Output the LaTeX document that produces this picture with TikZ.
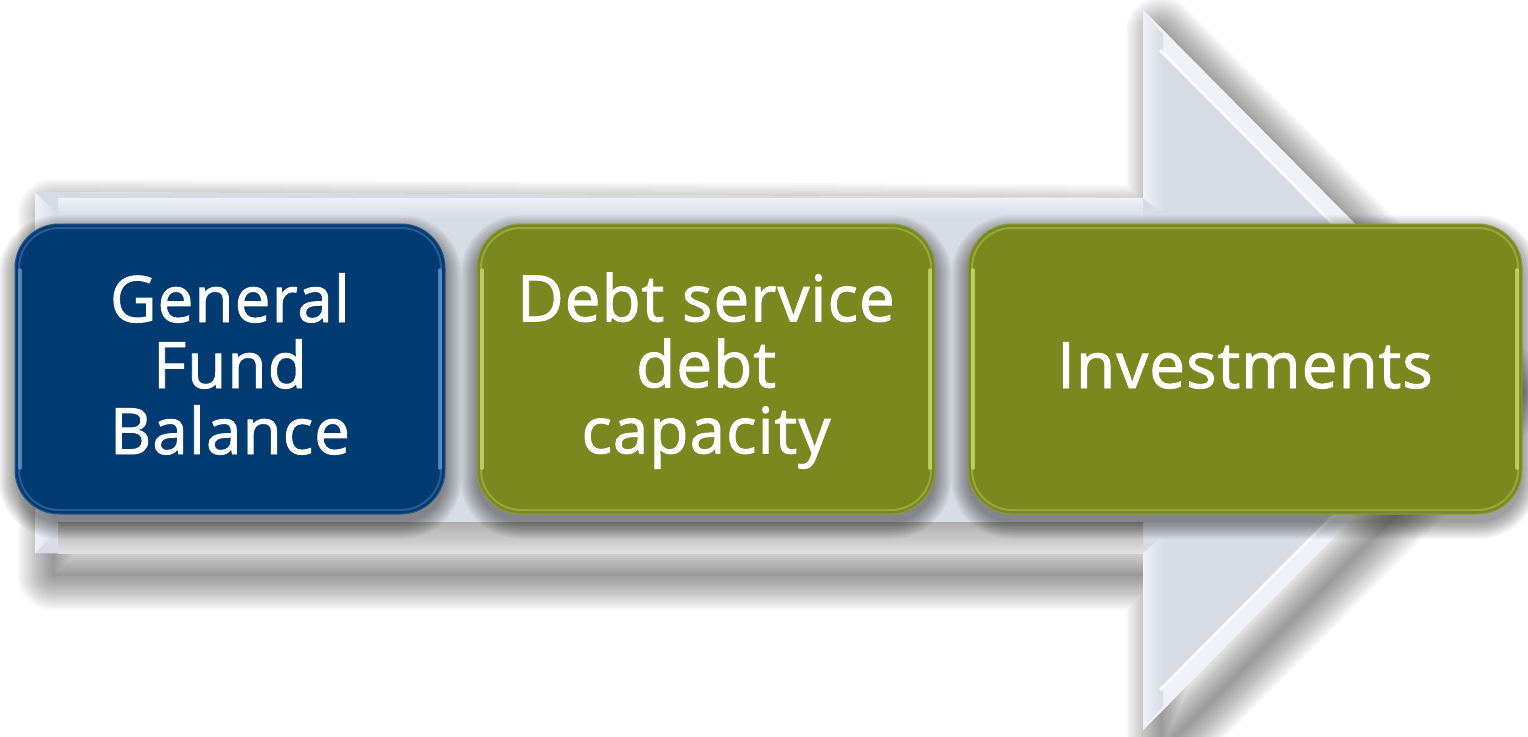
\documentclass[tikz,border=0pt]{standalone}
\usepackage{fontspec}
\newfontfamily\cardfont{Open Sans}[FakeBold=1.4, LetterSpace=1.5]
\usetikzlibrary{calc}

\definecolor{navy}{HTML}{023B71}
\definecolor{navyhl}{HTML}{6E9AD0}
\definecolor{olive}{HTML}{79891F}
\definecolor{olivehl}{HTML}{CFDC78}
\definecolor{face}{HTML}{D7DBE4}
\definecolor{facelight}{HTML}{EEF1F8}

\pgfdeclarelayer{arrowlayer}
\pgfdeclarelayer{shadelayer}
\pgfsetlayers{arrowlayer,shadelayer,main}

% line strut: fixes height/depth of every text line
\newcommand\linestrut{\rule[-14pt]{0pt}{66pt}}

% outline of the block arrow
\newcommand\arrowoutline{(35,192) -- (1143,198) -- (1143,10) -- (1500,370)
  -- (1143,730) -- (1143,553) -- (35,553) -- cycle}

% soft drop shadow under a card, built from stacked translucent fills
\newcommand\cardshadow[1]{%
  \foreach \s [evaluate=\s as \r using 44+\s] in {0,2,...,16}
    \fill[black, opacity=.05, rounded corners=\r pt]
      ([xshift=-\s pt, yshift=-8pt+\s pt]#1.north west)
      rectangle ([xshift=\s pt, yshift=-8pt-\s pt]#1.south east);}

\begin{document}
\begin{tikzpicture}[x=1pt,y=-1pt,
  card/.style 2 args={
    rectangle, rounded corners=44pt, inner sep=0pt,
    minimum height=290pt, fill=#1, draw=#1!85!white, line width=1pt,
    text=white, align=center,
    font=\cardfont\fontsize{64}{66}\selectfont,
    path picture={
      \draw[#2, line width=3.5pt, opacity=.75, line cap=round]
        ([xshift=5pt,yshift=-46pt]path picture bounding box.north west)
        -- ([xshift=5pt,yshift=46pt]path picture bounding box.south west);
      \draw[#2, line width=3.5pt, opacity=.75, line cap=round]
        ([xshift=-5pt,yshift=-46pt]path picture bounding box.north east)
        -- ([xshift=-5pt,yshift=46pt]path picture bounding box.south east);
      \draw[#2, line width=2pt, opacity=.35, rounded corners=40pt]
        ([xshift=4pt,yshift=-4pt]path picture bounding box.north west)
        rectangle ([xshift=-4pt,yshift=4pt]path picture bounding box.south east);
    }},
  hiline/.style={white, line width=3pt, opacity=.85},
  arrowpath/.style={line join=round}
]
\useasboundingbox (0,0) rectangle (1528,736);

\begin{pgfonlayer}{arrowlayer}
  % drop shadow of the block arrow
  \foreach \w in {70,66,...,2}
    \draw[black, opacity=.028, line width=\w pt, arrowpath, shift={(18,22)}]
      \arrowoutline;

  % block arrow
  \fill[white] \arrowoutline;
  \fill[face] \arrowoutline;

  % bevel faces of the shaft
  \shade[top color=facelight, bottom color=face] (58,198) rectangle (1143,218);
  \shade[top color=black!32, bottom color=black!12] (58,522) rectangle (1143,553);
  \shade[left color=facelight, right color=face]
    (35,192) -- (58,215) -- (58,530) -- (35,553) -- cycle;

  % bevel faces of the head
  \fill[facelight] (1143,10) -- (1500,370) -- (1143,730) -- (1143,708)
    -- (1478,370) -- (1143,32) -- cycle;
  \shade[left color=facelight, right color=face]
    (1143,12) -- (1163,34) -- (1163,214) -- (1143,198) -- cycle;
  \shade[left color=facelight, right color=face]
    (1143,553) -- (1163,536) -- (1163,706) -- (1143,728) -- cycle;
  \draw[hiline] (1160,50) -- (1470,362);
  \draw[hiline] (1160,690) -- (1470,378);
\end{pgfonlayer}

% process steps
\node[card={navy}{navyhl}, minimum width=430pt] (fund) at (230,369)
  {\linestrut General\\\linestrut Fund\\\linestrut Balance};
\node[card={olive}{olivehl}, minimum width=458pt] (debt) at (706,369)
  {\linestrut Debt service\\\linestrut debt\\\linestrut capacity};
\node[card={olive}{olivehl}, minimum width=554pt] (invest) at (1245,369)
  {\linestrut Investments};

\begin{pgfonlayer}{shadelayer}
  \cardshadow{fund}
  \cardshadow{debt}
  \cardshadow{invest}
\end{pgfonlayer}
\end{tikzpicture}
\end{document}
